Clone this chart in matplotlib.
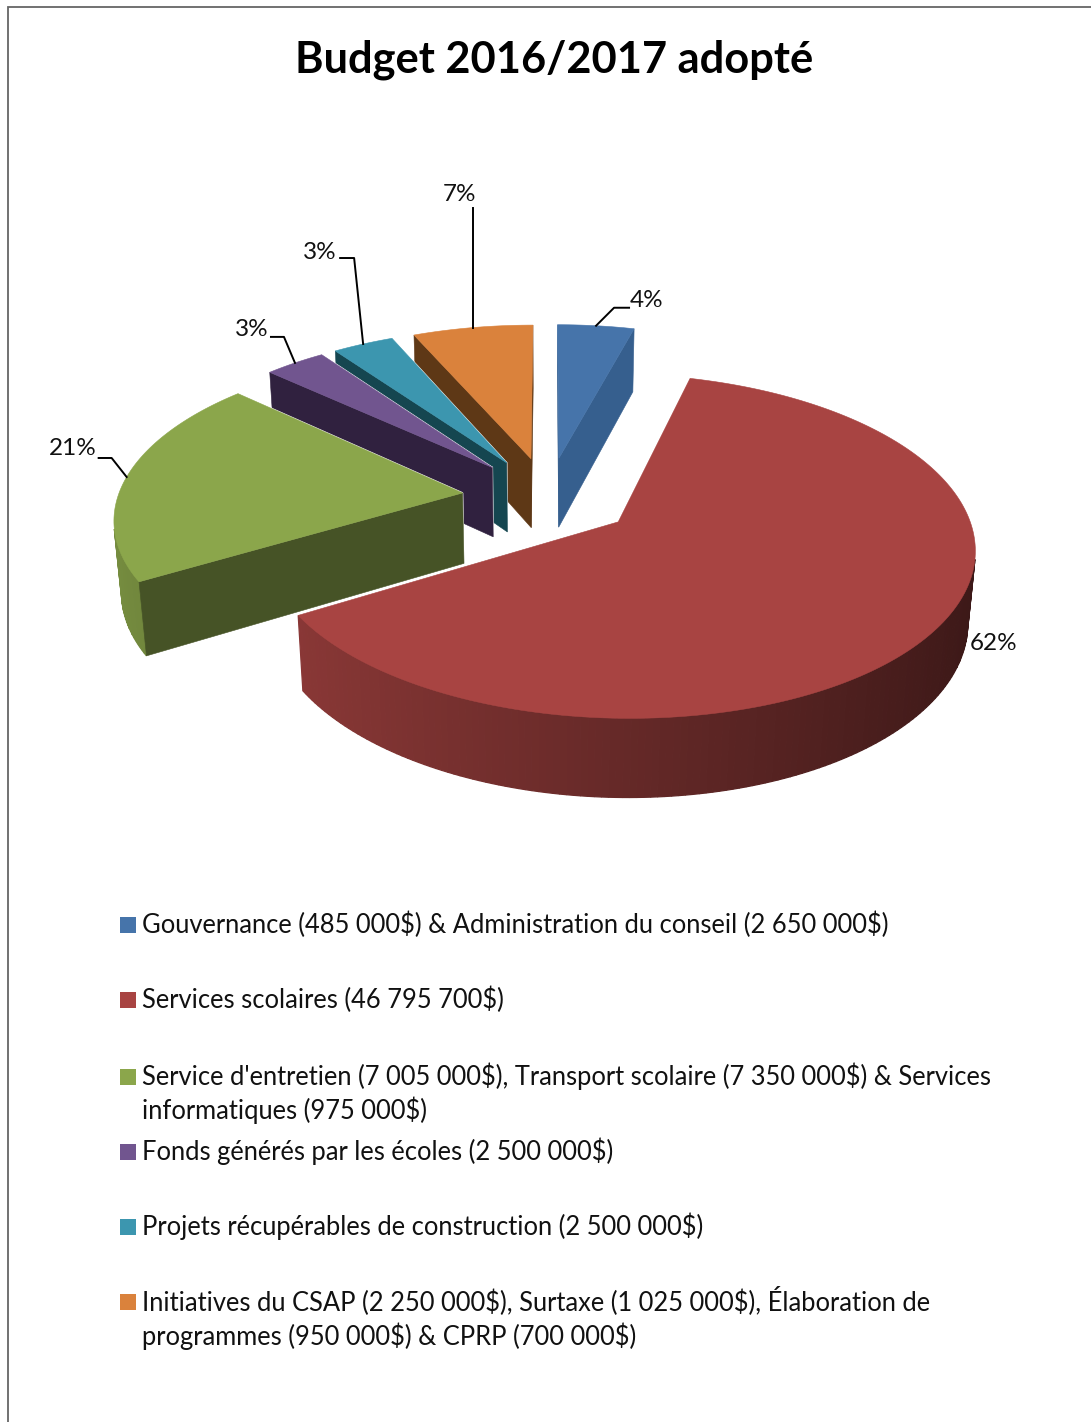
import numpy as np
import matplotlib
matplotlib.use("Agg")
import matplotlib.pyplot as plt
from matplotlib.colors import to_rgb

plt.rcParams['font.family'] = ['Lato', 'DejaVu Sans']

# amounts in dollars
gouvernance = [485000, 2650000]
scolaires = [46795700]
entretien = [7005000, 7350000, 975000]
ecoles = [2500000]
projets = [2500000]
initiatives = [2250000, 1025000, 950000, 700000]

amounts = [sum(gouvernance), sum(scolaires), sum(entretien), sum(ecoles), sum(projets), sum(initiatives)]
pct_labels = ['4%', '62%', '21%', '3%', '3%', '7%']
legend_lines = [
    ["Gouvernance (485 000$) & Administration du conseil (2 650 000$)"],
    ["Services scolaires (46 795 700$)"],
    ["Service d'entretien (7 005 000$), Transport scolaire (7 350 000$) & Services", "informatiques (975 000$)"],
    ["Fonds générés par les écoles (2 500 000$)"],
    ["Projets récupérables de construction (2 500 000$)"],
    ["Initiatives du CSAP (2 250 000$), Surtaxe (1 025 000$), Élaboration de", "programmes (950 000$) & CPRP (700 000$)"],
]

top_colors = ['#4674AA', '#A84442', '#8BA64B', '#71558F', '#3C96AF', '#DA823C']
wall_colors = ['#365F8E', '#7A3230', '#465326', '#30213F', '#154650', '#5E3816']

# camera
W, H = 1091, 1422
elev = np.radians(28)
dist = 6.4
focal = 2206
cx, cy = 548, 497
explode = 0.25
height = 0.236


def project(x, y, z):
    xc = x
    yc = y * np.sin(elev) + z * np.cos(elev)
    zc = y * np.cos(elev) - z * np.sin(elev) + dist
    return cx + focal * xc / zc, cy - focal * yc / zc


def area(px, py):
    return np.sum(px * np.roll(py, -1) - np.roll(px, -1) * py)


def draw_slice(ax, i, start, sweep):
    mid = np.radians(start + sweep / 2)
    ox, oy = explode * np.sin(mid), explode * np.cos(mid)
    th = np.radians(np.linspace(start, start + sweep, max(int(sweep), 6)))
    arc_x = ox + np.sin(th)
    arc_y = oy + np.cos(th)
    wall = to_rgb(wall_colors[i])
    top = to_rgb(top_colors[i])

    def quad(x0, y0, x1, y1):
        xs = np.array([x0, x1, x1, x0])
        ys = np.array([y0, y1, y1, y0])
        zs = np.array([0, 0, -height, -height])
        return project(xs, ys, zs)

    flat, strips = [], []
    for a, b in [((ox, oy), (arc_x[0], arc_y[0])), ((arc_x[-1], arc_y[-1]), (ox, oy))]:
        px, py = quad(a[0], a[1], b[0], b[1])
        if area(px, py) < 0:
            flat.append((px, py, wall))
    visible = []
    for k in range(len(th) - 1):
        px, py = quad(arc_x[k], arc_y[k], arc_x[k + 1], arc_y[k + 1])
        if area(px, py) < 0:
            shade = 0.6 - 0.25 * np.sin((th[k] + th[k + 1]) / 2)
            strips.append((px, py, tuple(c * shade for c in top)))
            visible += [k, k + 1]
    px, py = project(np.r_[ox, arc_x], np.r_[oy, arc_y], np.zeros(len(th) + 1))
    top_face = (px, py, top)

    # white rim first, only round the outline of each face group
    for fx, fy, _ in flat + [top_face]:
        ax.fill(fx, fy, facecolor='none', edgecolor='white', lw=1.1)
    if visible:
        k = np.arange(min(visible), max(visible) + 1)
        tx, ty = project(arc_x[k], arc_y[k], 0.0)
        bx, by = project(arc_x[k], arc_y[k], -height)
        ax.fill(np.r_[tx, bx[::-1]], np.r_[ty, by[::-1]], facecolor='none', edgecolor='white', lw=1.1)

    for fx, fy, col in strips:
        ax.fill(fx, fy, facecolor=col, edgecolor=col, lw=0.9)
    for fx, fy, col in flat + [top_face]:
        ax.fill(fx, fy, facecolor=col, edgecolor=col, lw=0.4)


fig = plt.figure(figsize=(W / 100, H / 100), dpi=100)
ax = fig.add_axes([0, 0, 1, 1])
ax.set_xlim(0, W)
ax.set_ylim(H, 0)
ax.axis('off')

# page frame
ax.plot([7.5, 7.5, W], [H, 6.5, 6.5], color='#666666', lw=1.3, solid_joinstyle='miter')

ax.text(554.5, 72, "Budget 2016/2017 adopté", ha='center', va='baseline', fontsize=31.2, fontweight='bold',
        color='black', parse_math=False)

sweeps = 360 * np.array(amounts) / sum(amounts)
starts = np.r_[0, np.cumsum(sweeps)[:-1]]

# far slices first, the big red one last
for i in [0, 5, 4, 3, 2, 1]:
    draw_slice(ax, i, starts[i], sweeps[i])

# data labels: slice, elbow offset from arc, end offset, text centre and baseline
label_layout = {
    0: ((18, -18), (33, -18), (647, 307)),
    5: ((0, -60), (0, -120), (459, 201)),
    4: ((-9, -86), (-23, -86), (320, 259)),
    3: ((-11, -26), (-24, -26), (252, 336)),
    2: ((-15, -19), (-28, -19), (73, 455)),
}
for i, (elbow, end, pos) in label_layout.items():
    mid = np.radians(starts[i] + sweeps[i] / 2)
    r = 1 + explode
    ax_x, ax_y = project(r * np.sin(mid), r * np.cos(mid), 0.0)
    ax.plot([ax_x, ax_x + elbow[0], ax_x + end[0]], [ax_y, ax_y + elbow[1], ax_y + end[1]], color='black', lw=1.4)
    ax.text(pos[0], pos[1], pct_labels[i], ha='center', va='baseline', fontsize=17.5, color='#111111')
ax.text(994, 650, pct_labels[1], ha='center', va='baseline', fontsize=17.5, color='#111111')

# legend
baselines = [[933], [1008], [1085, 1119], [1160], [1235], [1310, 1345]]
for i, lines in enumerate(legend_lines):
    y0 = baselines[i][0]
    ax.fill([120, 136, 136, 120], [y0 - 16, y0 - 16, y0, y0], color=top_colors[i], lw=0)
    for line, y in zip(lines, baselines[i]):
        ax.text(142, y, line, ha='left', va='baseline', fontsize=18.4, color='#111111', parse_math=False)

plt.savefig("out.png", dpi=100)
